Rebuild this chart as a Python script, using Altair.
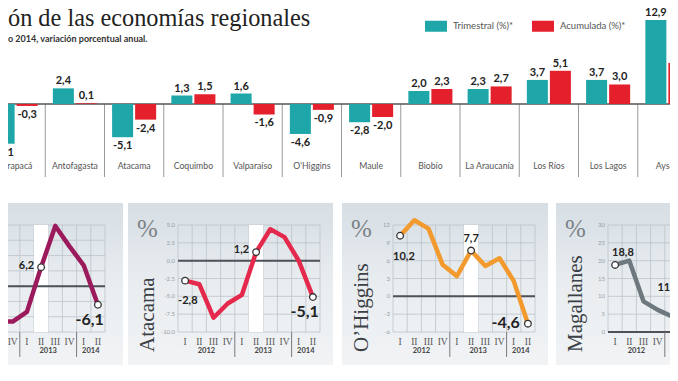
import altair as alt
import pandas as pd

# ---------------- data ----------------
title_text = "ón de las economías regionales"
subtitle_text = "o 2014, variación porcentual anual."

regions = ["Tarapacá", "Antofagasta", "Atacama", "Coquimbo", "Valparaíso", "O'Higgins",
           "Maule", "Biobío", "La Araucanía", "Los Ríos", "Los Lagos", "Aysén"]
trimestral = [-6.1, 2.4, -5.1, 1.3, 1.6, -4.6, -2.8, 2.0, 2.3, 3.7, 3.7, 12.9]
acumulada = [-0.3, 0.1, -2.4, 1.5, -1.6, -0.9, -2.0, 2.3, 2.7, 5.1, 3.0, 6.3]
series_names = ["Trimestral (%)*", "Acumulada (%)*"]
series_colors = ["#1ea6a8", "#e4202c"]

quarter_labels = ["I", "II", "III", "IV", "I", "II", "III", "IV", "I", "II"]
year_labels = ["2012", "2013", "2014"]
year_quarters = [[0, 1, 2, 3], [4, 5, 6, 7], [8, 9]]
highlight_quarter = [5]
marked_quarters = [0, 5, 9]

tarapaca = [None, None, -11.6, -11.6, -8.4, 6.2, 19.7, 13.0, 6.8, -6.1]
atacama = [-2.8, -3.3, -8.0, -6.0, -4.8, 1.2, 4.4, 3.3, 0.0, -5.1]
ohiggins = [10.2, 12.8, 11.4, 5.3, 3.4, 7.7, 5.1, 6.4, 2.6, -4.6]
magallanes = [18.8, 20.0, 8.6, 6.2, 4.4, 11.8, None, None, None, None]

ticks_tarapaca = [-15, -10, -5, 0, 5, 10, 15, 20]
ticks_atacama = [-10.0, -7.5, -5.0, -2.5, 0.0, 2.5, 5.0]
ticks_ohiggins = [-6, -3, 0, 3, 6, 9, 12]
ticks_magallanes = [0, 5, 10, 15, 20, 25, 30]

# ---------------- layout / style ----------------
W, H = 662, 365
OFF = 8
SANS = "Lato"
SERIF = "Liberation Serif"


def fmt(v):
    return f"{v:.1f}".replace(".", ",")


# ---------------- top bar chart ----------------
rows = []
for r, a, b in zip(regions, trimestral, acumulada):
    rows.append({"region": r, "serie": series_names[0], "valor": a, "label": fmt(a)})
    rows.append({"region": r, "serie": series_names[1], "valor": b, "label": fmt(b)})
bars_df = pd.DataFrame(rows)

x_top = alt.Scale(domain=regions, range=[-14 - OFF, 697 - OFF], paddingInner=0, paddingOuter=0)
xo_top = alt.Scale(domain=series_names, paddingInner=0.087, paddingOuter=0.33)
y_top = alt.Scale(domain=[0, 12.9], range=[104 - OFF, 20 - OFF], nice=False, zero=False)

XT = alt.X("region:N", scale=x_top, axis=None)
XO = alt.XOffset("serie:N", scale=xo_top)
YT = alt.Y("valor:Q", scale=y_top, axis=None)

bars = alt.Chart(bars_df).mark_bar().encode(
    x=XT, xOffset=XO, y=YT, y2=alt.datum(0),
    color=alt.Color("serie:N", scale=alt.Scale(domain=series_names, range=series_colors),
                    legend=alt.Legend(orient="none", legendX=417, legendY=7, direction="horizontal",
                                      title=None, symbolType="M-1,-0.5H1V0.5H-1Z", symbolSize=484,
                                      symbolStrokeWidth=0, symbolOpacity=1, labelFont=SANS,
                                      labelFontSize=9.5, labelColor="#555", labelOffset=6,
                                      columnPadding=18, padding=0)),
)
lab_pos = alt.Chart(bars_df).transform_filter("datum.valor >= 0").mark_text(
    baseline="bottom", dy=-2, font=SANS, fontWeight="bold", fontSize=11, color="#222"
).encode(x=XT, xOffset=XO, y=YT, text="label:N")
lab_neg = alt.Chart(bars_df).transform_filter("datum.valor < 0").mark_text(
    baseline="top", dy=3, font=SANS, fontWeight="bold", fontSize=11, color="#222"
).encode(x=XT, xOffset=XO, y=YT, text="label:N")

reg_df = pd.DataFrame({"region": regions})
separators = alt.Chart(reg_df).mark_rule(color="#9a9a9a", strokeWidth=1).encode(
    x=alt.X("region:N", scale=x_top, axis=None, bandPosition=0),
    y=alt.YDatum(0, scale=y_top, axis=None), y2=alt.value(177 - OFF))
region_labels = alt.Chart(reg_df).mark_text(font=SANS, fontSize=8.7, color="#555").encode(
    x=XT, y=alt.value(166 - OFF), text="region:N")
zero_top = alt.Chart(reg_df.head(1)).mark_rule(color="#555", strokeWidth=1.5).encode(
    x=alt.value(0), x2=alt.value(W), y=alt.YDatum(0, scale=y_top, axis=None))

top = alt.layer(separators, zero_top, bars, lab_pos, lab_neg, region_labels)

title = alt.Chart(pd.DataFrame({"t": [title_text]})).mark_text(
    font=SERIF, fontSize=24.3, color="#222", align="left", baseline="alphabetic"
).encode(x=alt.value(0), y=alt.value(26 - OFF), text="t:N")
subtitle = alt.Chart(pd.DataFrame({"t": [subtitle_text]})).mark_text(
    font=SANS, fontSize=9, fontWeight="bold", color="#333", align="left", baseline="alphabetic"
).encode(x=alt.value(0), y=alt.value(42 - OFF), text="t:N")

# ---------------- bottom panels ----------------
PLOT_TOP, PLOT_BOTTOM = 225, 332
PANEL_TOP, PANEL_BOTTOM = 203, 365
CELL = 14.2
panel_fill = alt.Gradient(gradient="linear",
                          stops=[alt.GradientStop(color="#d6dee4", offset=0),
                                 alt.GradientStop(color="#e9edf0", offset=0.5),
                                 alt.GradientStop(color="#f1f3f5", offset=1)],
                          x1=0, x2=0, y1=0, y2=1)


def panel(name, values, ticks, tick_fmt, color, panel_left, panel_right, plot_right, labels):
    plot_left = plot_right - CELL * 10
    xs = alt.Scale(domain=[-0.5, 9.5], range=[plot_left - OFF, plot_right - OFF], nice=False, zero=False)
    lo, hi = min(ticks), max(ticks)
    ys = alt.Scale(domain=[lo, hi], range=[PLOT_BOTTOM - OFF, PLOT_TOP - OFF], nice=False, zero=False)

    def X(f):
        return alt.X(f, type="quantitative", scale=xs, axis=None)

    def Y(f):
        return alt.Y(f, type="quantitative", scale=ys, axis=None)

    one = pd.DataFrame({"t": [name]})
    bg = alt.Chart(one).mark_rect(fill=panel_fill).encode(
        x=alt.value(panel_left - OFF), x2=alt.value(panel_right - OFF),
        y=alt.value(PANEL_TOP - OFF), y2=alt.value(PANEL_BOTTOM - OFF))

    tick_df = pd.DataFrame({"t": ticks, "tl": [tick_fmt(t) for t in ticks]})
    grid_h = alt.Chart(tick_df).mark_rule(color="#bcc4ca", strokeWidth=0.8).encode(
        y=Y("t"), x=alt.XDatum(-0.5, scale=xs, axis=None), x2=alt.datum(9.5))
    bounds = pd.DataFrame({"b": [i - 0.5 for i in range(len(quarter_labels) + 1)]})
    grid_v = alt.Chart(bounds).mark_rule(color="#bcc4ca", strokeWidth=0.8).encode(
        x=X("b"), y=alt.YDatum(lo, scale=ys, axis=None), y2=alt.datum(hi))
    hl = alt.Chart(pd.DataFrame({"q": highlight_quarter})).transform_calculate(
        a="datum.q - 0.5", b="datum.q + 0.5").mark_rect(fill="white").encode(
        x=X("a"), x2="b:Q", y=alt.YDatum(lo, scale=ys, axis=None), y2=alt.datum(hi))
    zero = alt.Chart(one).mark_rule(color="#4c5257", strokeWidth=2).encode(
        y=alt.YDatum(0, scale=ys, axis=None), x=alt.XDatum(-0.5, scale=xs, axis=None), x2=alt.datum(9.5))
    ytl = alt.Chart(tick_df).mark_text(align="right", baseline="middle", fontSize=6, color="#98a0a6",
                                       font=SANS, dx=-3).encode(
        x=alt.XDatum(-0.5, scale=xs, axis=None), y=Y("t"), text="tl:N")
    q_df = pd.DataFrame({"q": list(range(len(quarter_labels))), "ql": quarter_labels})
    qlab = alt.Chart(q_df).mark_text(font=SERIF, fontSize=9.5, color="#555").encode(
        x=X("q"), y=alt.value(342 - OFF), text="ql:N")
    y_df = pd.DataFrame({"c": [sum(g) / len(g) for g in year_quarters], "y": year_labels})
    ylab = alt.Chart(y_df).mark_text(font=SANS, fontWeight="bold", fontSize=7.5, color="#444").encode(
        x=X("c"), y=alt.value(351 - OFF), text="y:N")
    sep_df = pd.DataFrame({"b": [g[-1] + 0.5 for g in year_quarters[:-1]]})
    ysep = alt.Chart(sep_df).mark_rule(color="#7a7a7a", strokeWidth=1).encode(
        x=X("b"), y=alt.value(PLOT_BOTTOM - OFF), y2=alt.value(357 - OFF))

    line_df = pd.DataFrame({"q": list(range(len(values))), "v": values}).dropna()
    line = alt.Chart(line_df).mark_line(color=color, strokeWidth=4.5, strokeJoin="round",
                                        strokeCap="round").encode(x=X("q"), y=Y("v"), order="q:Q")
    pts_df = line_df[line_df["q"].isin(marked_quarters)].copy()
    pts = alt.Chart(pts_df).mark_point(shape="circle", filled=True, fill="white", stroke="#333",
                                       strokeWidth=1.3, size=44, opacity=1).encode(x=X("q"), y=Y("v"))

    pct = alt.Chart(pd.DataFrame({"t": ["%"]})).mark_text(
        font=SERIF, fontSize=25, color="#7b8187", align="left", baseline="alphabetic").encode(
        x=alt.value(panel_left + 9 - OFF), y=alt.value(237 - OFF), text="t:N")
    nm = alt.Chart(one).mark_text(font=SERIF, fontSize=21, color="#3b4045", angle=270,
                                  align="left", baseline="middle").encode(
        x=alt.value(panel_left + 20 - OFF), y=alt.value(352 - OFF), text="t:N")

    lab_layers = []
    for q, dx, dy, align, baseline, size in labels:
        d = pd.DataFrame({"q": [q], "v": [values[q]], "label": [fmt(values[q])]})
        lab_layers.append(alt.Chart(d).mark_text(
            dx=dx, dy=dy, align=align, baseline=baseline, fontSize=size, font=SANS,
            fontWeight="bold", color="#222").encode(x=X("q"), y=Y("v"), text="label:N"))

    return alt.layer(bg, grid_h, grid_v, hl, zero, ytl, qlab, ylab, ysep, line, pts, pct, nm,
                     *lab_layers)


p1 = panel("Tarapacá", tarapaca, ticks_tarapaca, lambda t: f"{t:g}", "#9b1a5c", -88, 123, 105,
           [(5, -7, -1, "right", "middle", 11), (9, 6, 7, "right", "top", 16)])
p2 = panel("Atacama", atacama, ticks_atacama, lambda t: f"{t:.1f}", "#e5294c", 128, 333, 320,
           [(0, -7, 20, "left", "middle", 11), (5, -7, -2, "right", "middle", 11),
            (9, 6, 7, "right", "top", 16)])
p3 = panel("O’Higgins", ohiggins, ticks_ohiggins, lambda t: f"{t:g}", "#f39a2e", 342, 548, 535,
           [(0, -7, 21, "left", "middle", 11), (5, 0, -12, "center", "middle", 11),
            (9, -8, -1, "right", "middle", 16)])
p4 = panel("Magallanes", magallanes, ticks_magallanes, lambda t: f"{t:g}", "#6d797e", 556, 761, 750,
           [(0, -3, -12, "left", "middle", 11), (5, -7, -2, "right", "middle", 11)])

chart = alt.layer(title, subtitle, top, p1, p2, p3, p4).resolve_scale(
    x="independent", y="independent"
).properties(
    width=W, height=H, autosize=alt.AutoSizeParams(type="none"), padding=0, background="white"
).configure_view(stroke=None)

chart.save("out.html", embed_options={"renderer": "svg", "actions": False})
